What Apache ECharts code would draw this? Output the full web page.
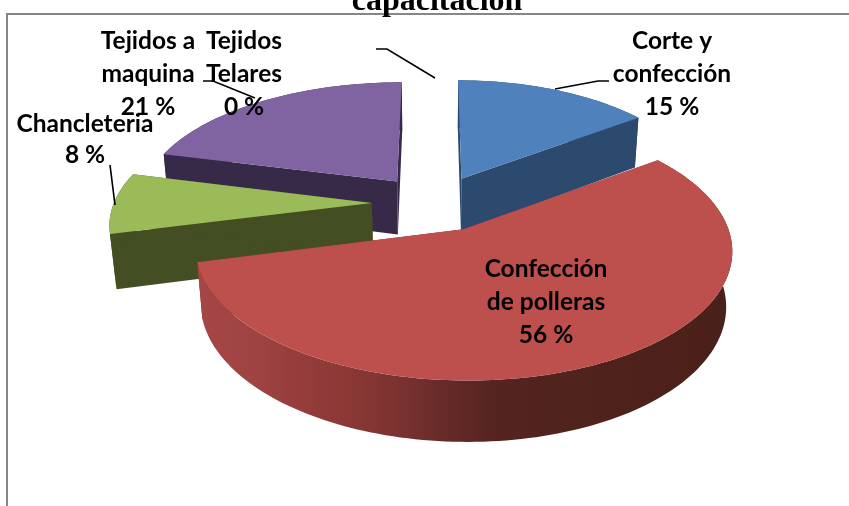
<!DOCTYPE html>
<html>
<head>
<meta charset="utf-8">
<style>html,body{margin:0;padding:0;background:#fff}#c{width:849px;height:506px}</style>
<script src="https://cdn.jsdelivr.net/npm/echarts@6/dist/echarts.min.js"></script>
</head>
<body>
<div id="c"></div>
<script>
const categories = ['Corte y\nconfección', 'Confección\nde polleras', 'Chancleteria', 'Tejidos a\nmaquina', 'Tejidos\nTelares'];
const values = [15, 56, 8, 21, 0];
const topColors = ['#4F81BD', '#BD504D', '#9BBB59', '#8064A2', '#F79646'];
const sideColors = ['#2C4A6E', '#7A3330', '#434F22', '#362A48', '#8A5426'];

// 3D view of the exploded pie
const view = {cx: 438, cy: 203, f: 258, g: 120, k: 0.15, m: 0.02, h: 55, explode: 0.233};
const shiftX = [-2, -1, -6, -5, 0];
const scaleX = [0.96, 0.995, 1, 1, 1];
const redWall = [[0, '#A54646'], [0.1, '#A04343'], [0.28, '#8B3835'], [0.38, '#7A3230'], [0.44, '#6B2C2A'], [0.56, '#542420'], [0.75, '#4F231C'], [1, '#4A201A']];

function project(i, X, Y, down) {
  const d = 1 + view.k * Y + (down ? view.m : 0);
  return [view.cx + shiftX[i] + view.f * scaleX[i] * X / d, view.cy + (-view.g * Y + (down ? view.h : 0)) / d];
}

const total = values.reduce((a, b) => a + b, 0);
const starts = [];
values.reduce((acc, v, i) => { starts[i] = acc; return acc + v; }, 0);

function renderSlice(params, api) {
  const i = params.dataIndex;
  const v = api.value(0);
  if (!v) return {type: 'group', children: []};
  const a0 = starts[i] / total * 2 * Math.PI;
  const a1 = (starts[i] + v) / total * 2 * Math.PI;
  const mid = (a0 + a1) / 2;
  const ox = view.explode * Math.sin(mid), oy = view.explode * Math.cos(mid);
  const n = Math.max(8, Math.round((a1 - a0) * 40));
  const rim = [];
  for (let s = 0; s <= n; s++) {
    const a = a0 + (a1 - a0) * s / n;
    rim.push([ox + Math.sin(a), oy + Math.cos(a)]);
  }
  const topRim = rim.map(p => project(i, p[0], p[1], false));
  const botRim = rim.map(p => project(i, p[0], p[1], true));
  const apexT = project(i, ox, oy, false);
  const apexB = project(i, ox, oy, true);
  const base = Math.round(-oy * 1000) * 10;
  const wallFill = i === 1
    ? {type: 'linear', x: 0, y: 0, x2: 1, y2: 0, colorStops: redWall.map(s => ({offset: s[0], color: s[1]}))}
    : sideColors[i];
  const poly = (pts, fill, z) => ({type: 'polygon', z2: base + z, shape: {points: pts}, style: {fill: fill, stroke: 'none'}});
  return {type: 'group', children: [
    poly([apexT, topRim[0], botRim[0], apexB], sideColors[i], 1),
    poly([apexT, topRim[n], botRim[n], apexB], sideColors[i], 1),
    poly(topRim.concat(botRim.slice().reverse()), wallFill, 2),
    poly([apexT].concat(topRim), topColors[i], 3)
  ]};
}

// label centres, in the same order as the categories
const labelX = [672, 546, 85, 148, 244];
const labelY = [74, 302, 140, 74, 74];
const labelLH = [33, 33, 31, 33, 33];
const leaders = [
  [[555, 89], [598, 81], [609, 81]],
  null,
  [[110, 165], [115, 205]],
  [[376, 49], [387, 49], [435, 78]],
  [[203, 81], [213, 81], [255, 98]]
];

const graphics = [];
graphics.push({type: 'polyline', silent: true, z: 1, shape: {points: [[7, 520], [7, 14], [860, 14]]}, style: {stroke: '#868686', lineWidth: 2, fill: 'none'}});
leaders.forEach(l => { if (l) graphics.push({type: 'polyline', z: 20, shape: {points: l}, style: {stroke: '#000', lineWidth: 1.6, fill: 'none'}}); });
categories.forEach((c, i) => {
  graphics.push({type: 'text', z: 30, x: labelX[i], y: labelY[i], style: {
    text: c + '\n' + values[i] + ' %', fill: '#000', align: 'center', verticalAlign: 'middle',
    font: 'bold 24.5px Lato', lineHeight: labelLH[i]
  }});
});
graphics.push({type: 'text', z: 30, x: 437, y: 18, style: {
  text: 'capacitación', fill: '#000', align: 'center', verticalAlign: 'bottom',
  font: 'bold 32px "Liberation Serif"'
}});

const chart = echarts.init(document.getElementById('c'), null, {renderer: 'canvas'});
chart.setOption({
  animation: false,
  backgroundColor: '#fff',
  graphic: graphics,
  series: [{
    type: 'custom',
    coordinateSystem: 'none',
    renderItem: renderSlice,
    z: 5,
    data: categories.map((c, i) => ({name: c, value: [values[i]]}))
  }]
});
</script>
</body>
</html>
